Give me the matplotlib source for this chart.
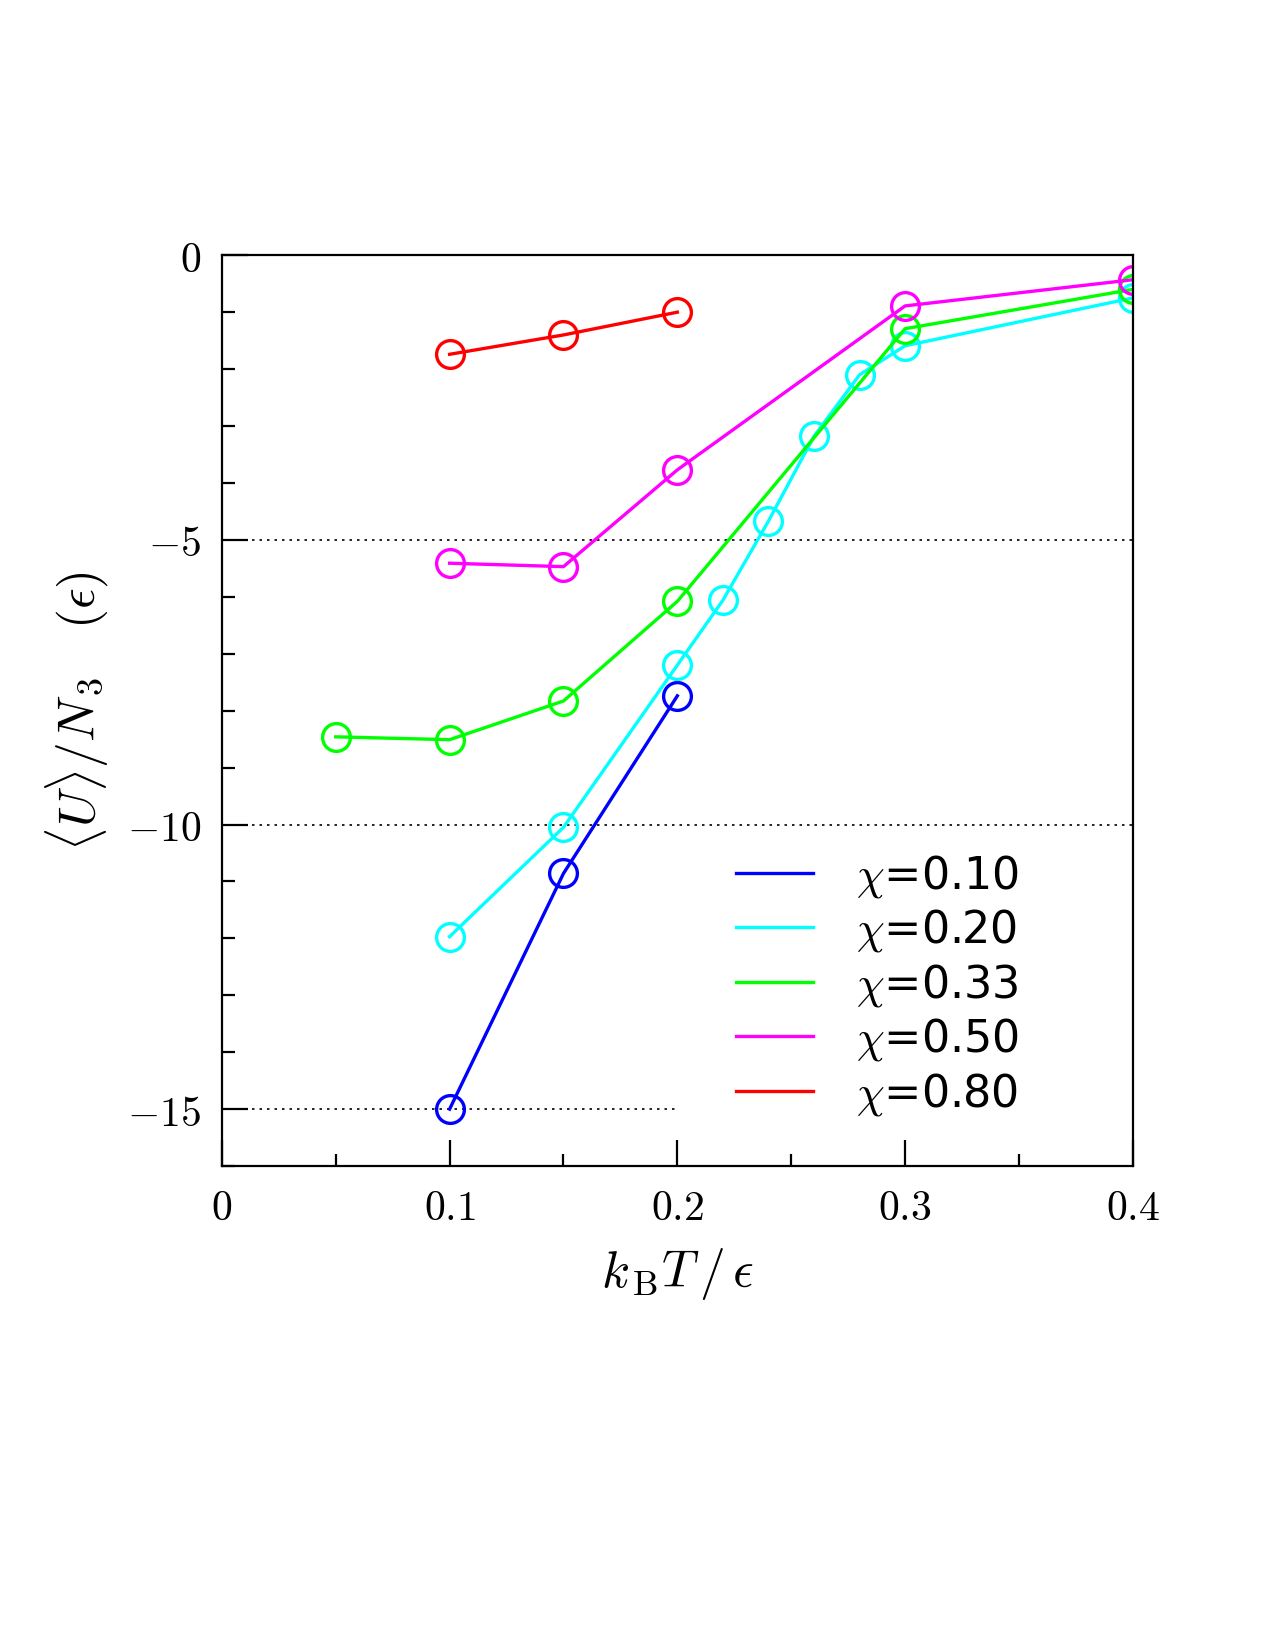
import matplotlib
matplotlib.use('Agg')
import matplotlib.pyplot as plt
from matplotlib.ticker import MultipleLocator, FixedLocator

plt.rcParams['mathtext.fontset'] = 'cm'
plt.rcParams['font.family'] = ['DejaVu Serif']

# data
x_010 = [0.10, 0.15, 0.20]
u_010 = [-15.0, -10.86, -7.74]

x_020 = [0.10, 0.15, 0.20, 0.22, 0.24, 0.26, 0.28, 0.30, 0.40]
u_020 = [-11.97, -10.05, -7.20, -6.06, -4.67, -3.18, -2.10, -1.59, -0.75]

x_033 = [0.05, 0.10, 0.15, 0.20, 0.30, 0.40]
u_033 = [-8.46, -8.51, -7.83, -6.08, -1.29, -0.60]

x_050 = [0.10, 0.15, 0.20, 0.30, 0.40]
u_050 = [-5.41, -5.47, -3.77, -0.89, -0.43]

x_080 = [0.10, 0.15, 0.20]
u_080 = [-1.74, -1.40, -1.00]

series = [
    (x_010, u_010, '#0000ff', r'$\chi$=0.10'),
    (x_020, u_020, '#00ffff', r'$\chi$=0.20'),
    (x_033, u_033, '#00ff00', r'$\chi$=0.33'),
    (x_050, u_050, '#ff00ff', r'$\chi$=0.50'),
    (x_080, u_080, '#ff0000', r'$\chi$=0.80'),
]

xticks = [0, 0.1, 0.2, 0.3, 0.4]
xtick_labels = ['$0$', '$0.1$', '$0.2$', '$0.3$', '$0.4$']
yticks = [0, -5, -10, -15]
ytick_labels = ['$0$', '$-5$', '$-10$', '$-15$']

fig = plt.figure(figsize=(12.75, 16.5), dpi=100)
ax = fig.add_axes([0.174, 0.2933, 0.7145, 0.552])

# dotted reference lines
ax.plot([0, 0.4], [-5, -5], color='black', ls=(0, (1.5, 3)), lw=1.2)
ax.plot([0, 0.4], [-10, -10], color='black', ls=(0, (1.5, 3)), lw=1.2)
ax.plot([0, 0.2], [-15, -15], color='black', ls=(0, (1.5, 3)), lw=1.2)

handles = []
for xs, us, col, lab in series:
    ax.plot(xs, us, color=col, lw=2.4, marker='o', ms=20,
            mfc='none', mec=col, mew=2.4)
    h, = ax.plot([], [], color=col, lw=2.4, label=lab)
    handles.append(h)

ax.set_xlim(0, 0.4)
ax.set_ylim(-16, 0)
ax.xaxis.set_major_locator(FixedLocator(xticks))
ax.set_xticklabels(xtick_labels)
ax.xaxis.set_minor_locator(MultipleLocator(0.05))
ax.yaxis.set_major_locator(FixedLocator(yticks))
ax.set_yticklabels(ytick_labels)
ax.yaxis.set_minor_locator(MultipleLocator(1))

ax.tick_params(which='both', direction='in', top=False, right=False, width=1.6)
ax.tick_params(which='major', length=19, labelsize=30, pad=15)
ax.tick_params(which='minor', length=9)
for sp in ax.spines.values():
    sp.set_linewidth(1.6)

ax.set_xlabel(r'$k_{\,\rm B}T\,/\,\epsilon$', fontsize=37, labelpad=12)
ax.set_ylabel(r'$\langle U\rangle/N_{\,3}\quad(\epsilon)$', fontsize=37, labelpad=12)

leg = ax.legend(handles=handles, loc='upper left', bbox_to_anchor=(0.564, 0.344),
                frameon=False, handlelength=1.75, handletextpad=0.95,
                labelspacing=0.17, borderpad=0, borderaxespad=0,
                prop={'family': 'DejaVu Sans', 'size': 32})

fig.savefig('out.png', dpi=100)
